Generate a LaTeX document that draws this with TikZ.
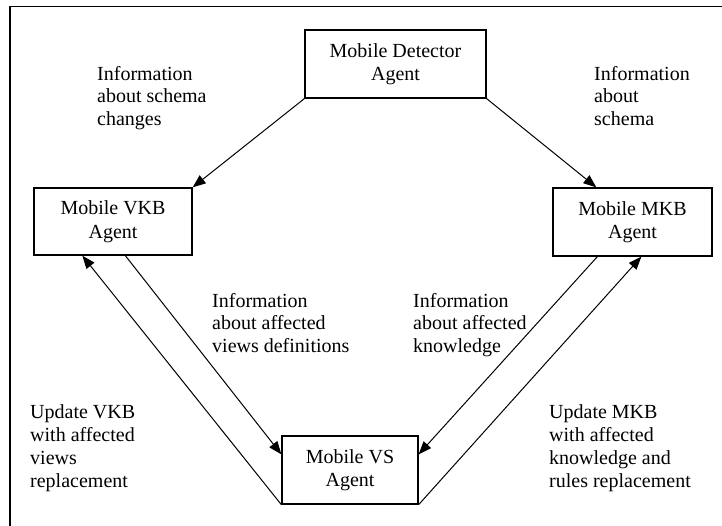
\documentclass[tikz,border=0pt]{standalone}
\usepackage{fontspec}
\setmainfont{Liberation Serif}
\usetikzlibrary{arrows.meta}
\begin{document}
\begin{tikzpicture}[x=1pt,y=-1pt,
  agentbox/.style={draw=black,line width=1.3pt,inner sep=0pt,align=center,
    font=\fontsize{20}{23.5}\selectfont},
  lbl/.style={inner sep=0pt,align=left,anchor=base west,
    font=\fontsize{20}{22.7}\selectfont},
  arr/.style={draw=black,line width=1pt,-{Triangle[length=13pt,width=10pt]}},
  frame/.style={draw=black,line width=1.6pt}]
\useasboundingbox (0,0) rectangle (722,525);
% frame (left and top edges)
\coordinate (fbl) at (10,526);
\coordinate (ftl) at (10,6.5);
\coordinate (ftr) at (723,6.5);
\draw[frame] (fbl) -- (ftl) -- (ftr);
% agent boxes
\node[agentbox,minimum width=181pt,minimum height=68pt] (det) at (395.5,64) {Mobile Detector\\Agent};
\node[agentbox,minimum width=158pt,minimum height=67pt] (vkb) at (113,221.5) {Mobile VKB\\Agent};
\node[agentbox,minimum width=159pt,minimum height=68pt] (mkb) at (632.5,222) {Mobile MKB\\Agent};
\node[agentbox,minimum width=136pt,minimum height=68pt] (vs) at (350,470) {Mobile VS\\Agent};
% connectors
\draw[arr] (det.south west) -- (vkb.north east);
\draw[arr] (det.south east) -- ([xshift=44pt]mkb.north west);
\draw[arr] (vs.south west) -- ([xshift=49pt]vkb.south west);
\draw[arr] ([xshift=92pt]vkb.south west) -- ([yshift=-19pt]vs.north west);
\draw[arr] ([xshift=45pt]mkb.south west) -- ([yshift=-19pt]vs.north east);
\draw[arr] (vs.south east) -- ([xshift=89pt]mkb.south west);
% labels (anchored at the baseline of their last line)
\node[lbl] (l1) at (97,125.4) {Information\\about schema\\changes};
\node[lbl] (l2) at (594,125.4) {Information\\about\\schema};
\node[lbl] (l3) at (212,352.4) {Information\\about affected\\views definitions};
\node[lbl] (l4) at (413,352.4) {Information\\about affected\\knowledge};
\node[lbl] (l5) at (30,487) {Update VKB\\with affected\\views\\replacement};
\node[lbl] (l6) at (549,487) {Update MKB\\with affected\\knowledge and\\rules replacement};
\end{tikzpicture}
\end{document}
